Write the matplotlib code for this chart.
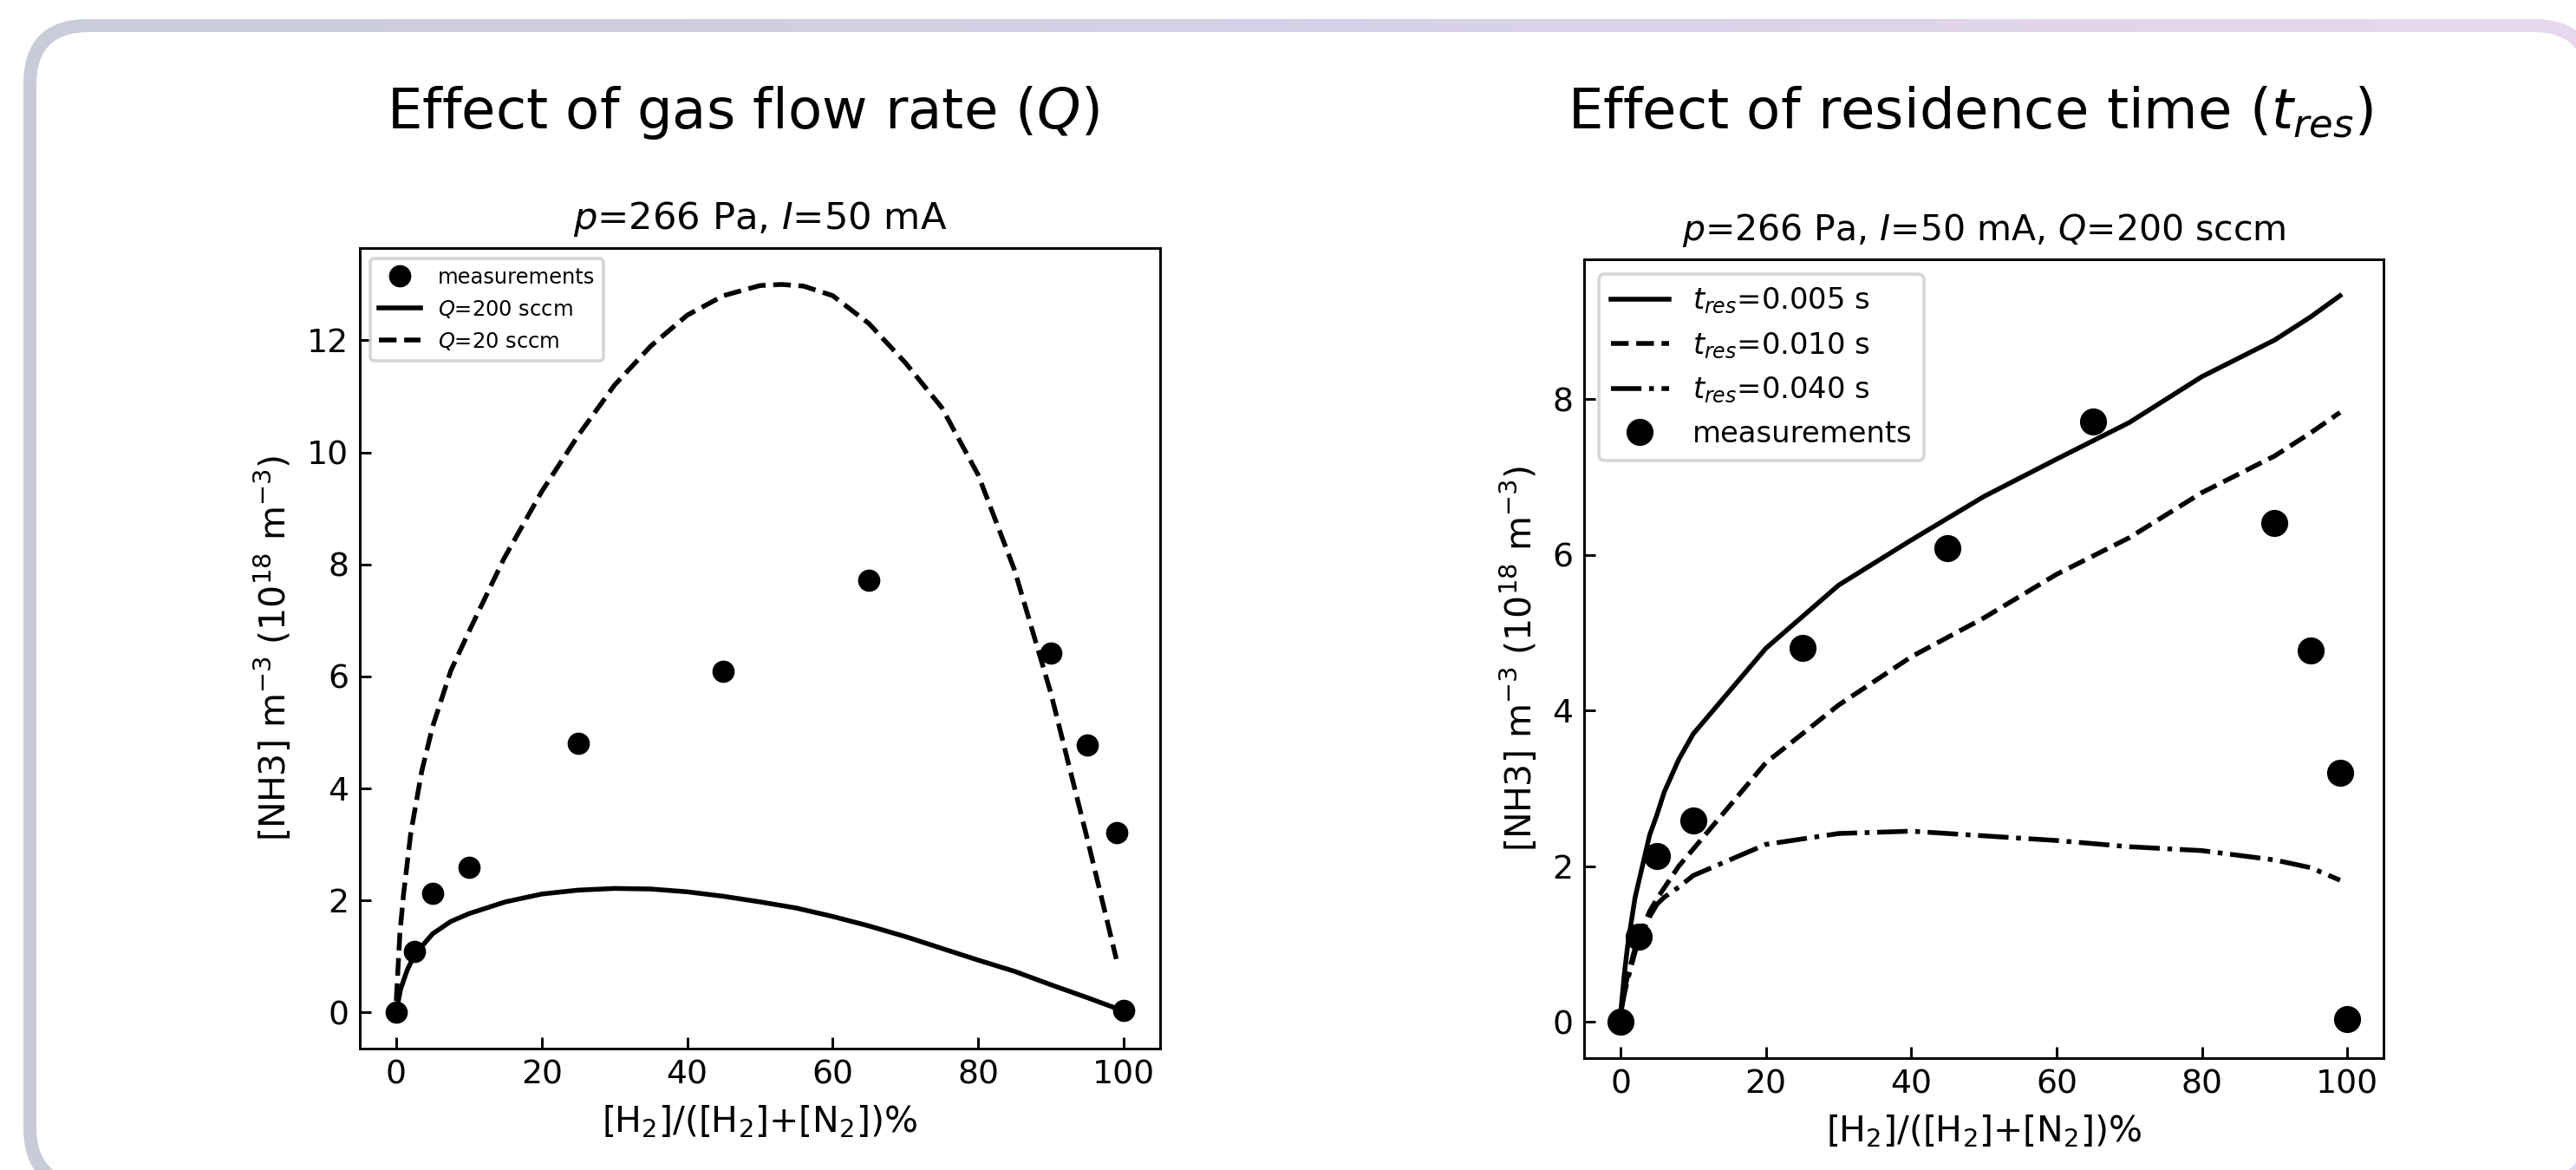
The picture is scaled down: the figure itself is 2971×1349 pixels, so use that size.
import numpy as np
import matplotlib.pyplot as plt
from matplotlib.patches import FancyBboxPatch

# measured NH3 density, same points in both panels
meas_x = [0, 2.5, 5, 10, 25, 45, 65, 90, 95, 99, 100]
meas_y = [0.0, 1.09, 2.13, 2.59, 4.81, 6.09, 7.71, 6.41, 4.77, 3.20, 0.03]

# left panel: model curves for two flow rates
q200_x = [0, 0.6, 1.5, 2.5, 5, 7.5, 10, 15, 20, 25, 30, 35, 40, 45, 50, 55, 60,
          65, 70, 75, 80, 85, 90, 95, 100]
q200_y = [0.0, 0.41, 0.75, 1.02, 1.40, 1.62, 1.76, 1.97, 2.11, 2.18, 2.21, 2.20,
          2.15, 2.07, 1.97, 1.86, 1.71, 1.54, 1.35, 1.14, 0.93, 0.73, 0.49, 0.26, 0.02]
q20_x = [0, 0.5, 1, 2, 3.5, 5, 7.5, 10, 14.8, 20, 25, 30, 35, 40, 45, 50, 53, 56,
         60, 65, 70, 75, 80, 85, 90, 95, 99]
q20_y = [0.2, 1.4, 2.1, 3.2, 4.3, 5.1, 6.1, 6.8, 8.1, 9.3, 10.3, 11.2, 11.9, 12.45,
         12.8, 12.98, 13.0, 12.97, 12.8, 12.3, 11.6, 10.8, 9.6, 7.9, 5.7, 3.1, 0.95]

# right panel: model curves for three residence times
t_x = [0, 0.5, 1, 2, 3, 4, 5, 6, 8, 10, 20, 30, 40, 50, 60, 70, 80, 90, 95, 99]
t005_y = [0.1, 0.6, 1.0, 1.6, 2.0, 2.4, 2.66, 2.95, 3.37, 3.70, 4.80, 5.61, 6.19,
          6.75, 7.23, 7.70, 8.29, 8.76, 9.06, 9.33]
t010_y = [0.1, 0.4, 0.6, 0.95, 1.2, 1.42, 1.58, 1.72, 2.0, 2.22, 3.33, 4.07, 4.69,
          5.19, 5.75, 6.22, 6.80, 7.27, 7.57, 7.83]
t040_y = [0.1, 0.35, 0.55, 0.9, 1.15, 1.35, 1.51, 1.6, 1.73, 1.88, 2.28, 2.42, 2.45,
          2.39, 2.33, 2.25, 2.20, 2.08, 1.98, 1.82]

W, H, DPI = 2971, 1349, 264
fig = plt.figure(figsize=(W / DPI, H / DPI), dpi=DPI)

# rounded card with gradient border (pixel coordinates)
bg = fig.add_axes([0, 0, 1, 1], zorder=-10)
bg.set_xlim(0, W)
bg.set_ylim(H, 0)
bg.axis('off')
x0, y0, x1, y1, bw, rad = 27, 22, 2997, 1375, 15, 75
outer = FancyBboxPatch((x0, y0), x1 - x0, y1 - y0,
                       boxstyle=f"round,pad=0,rounding_size={rad}",
                       facecolor='none', edgecolor='none')
bg.add_patch(outer)
stops = np.array([[0.79, 0.80, 0.85], [0.84, 0.82, 0.91], [0.91, 0.85, 0.93]])
t = np.linspace(0, 1, 400)
grad = np.stack([np.interp(t, [0, 0.5, 1], stops[:, c]) for c in range(3)], axis=-1)
im = bg.imshow(grad[None, :, :], extent=(x0, x1, y1, y0), aspect='auto', origin='upper')
im.set_clip_path(outer)
inner = FancyBboxPatch((x0 + bw, y0 + bw), x1 - x0 - 2 * bw, y1 - y0 - 2 * bw,
                       boxstyle=f"round,pad=0,rounding_size={rad - bw}",
                       facecolor='white', edgecolor='none')
bg.add_patch(inner)

ylab = r'[NH3] m$^{-3}$ (10$^{18}$ m$^{-3}$)'
xlab = r'[H$_2$]/([H$_2$]+[N$_2$])%'

# ---- left panel
fig.text(0.2885, 0.904, r'Effect of gas flow rate ($Q$)', ha='center', va='center', fontsize=17.5)
ax1 = fig.add_axes([0.1397, 0.1038, 0.3106, 0.6842])
ax1.plot(meas_x, meas_y, 'o', color='k', ms=6, zorder=3, label='measurements')
ax1.plot(q200_x, q200_y, '-', color='k', lw=1.5, label='$Q$=200 sccm')
ax1.plot(q20_x, q20_y, '--', color='k', lw=1.5, label='$Q$=20 sccm')
ax1.set_title(r'$p$=266 Pa, $I$=50 mA', fontsize=11.8)
ax1.set_xlabel(xlab, fontsize=11.2)
ax1.set_ylabel(ylab, fontsize=11.2)
ax1.tick_params(direction='in', labelsize=10.3)
ax1.legend(loc='upper left', fontsize=6.6)

# ---- right panel
fig.text(0.765, 0.904, r'Effect of residence time ($t_{res}$)', ha='center', va='center', fontsize=17.5)
ax2 = fig.add_axes([0.615, 0.0956, 0.3103, 0.6827])
ax2.plot(t_x, t005_y, '-', color='k', lw=1.5, label='$t_{res}$=0.005 s')
ax2.plot(t_x, t010_y, '--', color='k', lw=1.5, label='$t_{res}$=0.010 s')
ax2.plot(t_x, t040_y, '-.', color='k', lw=1.5, label='$t_{res}$=0.040 s')
ax2.plot(meas_x, meas_y, 'o', color='k', ms=7.5, zorder=3, label='measurements')
ax2.set_title(r'$p$=266 Pa, $I$=50 mA, $Q$=200 sccm', fontsize=11.2)
ax2.set_xlabel(xlab, fontsize=11.2)
ax2.set_ylabel(ylab, fontsize=11.2)
ax2.tick_params(direction='in', labelsize=10.3)
ax2.legend(loc='upper left', fontsize=9.2)

fig.savefig('out.png', dpi=DPI)
